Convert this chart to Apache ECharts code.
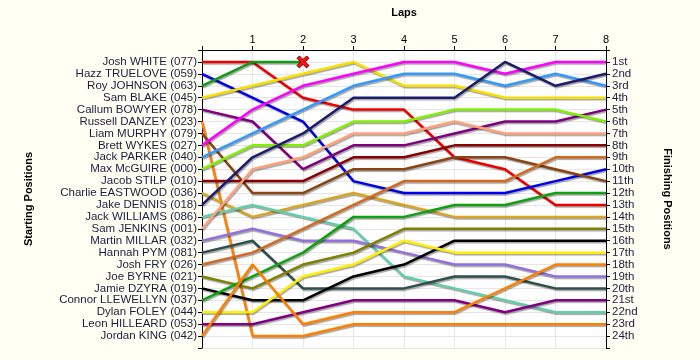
<!DOCTYPE html>
<html>
<head>
<meta charset="utf-8">
<script src="https://cdn.jsdelivr.net/npm/echarts@6/dist/echarts.min.js"></script>
<style>
html,body{margin:0;padding:0;background:#fffff4;}
#c{width:700px;height:360px;}
</style>
</head>
<body>
<div id="c"></div>
<script>
// Laps (x values)
const laps = [0, 1, 2, 3, 4, 5, 6, 7, 8];
// Drivers in starting order
const drivers = [
  'Josh WHITE (077)', 'Hazz TRUELOVE (059)', 'Roy JOHNSON (063)', 'Sam BLAKE (045)',
  'Callum BOWYER (078)', 'Russell DANZEY (023)', 'Liam MURPHY (079)', 'Brett WYKES (027)',
  'Jack PARKER (040)', 'Max McGUIRE (000)', 'Jacob STILP (010)', 'Charlie EASTWOOD (036)',
  'Jake DENNIS (018)', 'Jack WILLIAMS (086)', 'Sam JENKINS (001)', 'Martin MILLAR (032)',
  'Hannah PYM (081)', 'Josh FRY (026)', 'Joe BYRNE (021)', 'Jamie DZYRA (019)',
  'Connor LLEWELLYN (037)', 'Dylan FOLEY (044)', 'Leon HILLEARD (053)', 'Jordan KING (042)'
];
// Finishing position tick labels
const finishLabels = ['1st','2nd','3rd','4th','5th','6th','7th','8th','9th','10th','11th','12th',
  '13th','14th','15th','16th','17th','18th','19th','20th','21st','22nd','23rd','24th'];

// Position per lap for each driver
const joshWhite      = [1, 1, 4, 5, 5, 9, 10, 13, 13];
const hazzTruelove   = [2, 4, 6, 11, 12, 12, 12, 11, 10];
const royJohnson     = [3, 1, 1];            // retired after lap 2
const samBlake       = [4, 3, 2, 1, 3, 3, 4, 4, 4];
const callumBowyer   = [5, 6, 10, 8, 8, 7, 6, 6, 5];
const russellDanzey  = [6, 24, 24, 23, 23, 23, 23, 23, 23];
const liamMurphy     = [7, 12, 12, 10, 10, 9, 9, 10, 11];
const brettWykes     = [8, 5, 3, 2, 1, 1, 2, 1, 1];
const jackParker     = [9, 7, 5, 3, 2, 2, 3, 2, 3];
const maxMcguire     = [10, 8, 8, 6, 6, 5, 5, 5, 6];
const jacobStilp     = [11, 11, 11, 9, 9, 8, 8, 8, 8];
const charlieEastwood= [12, 14, 13, 12, 13, 14, 14, 14, 14];
const jakeDennis     = [13, 9, 7, 4, 4, 4, 1, 3, 2];
const jackWilliams   = [14, 13, 14, 15, 19, 20, 21, 22, 22];
const samJenkins     = [15, 10, 9, 7, 7, 6, 7, 7, 7];
const martinMillar   = [16, 15, 16, 16, 17, 18, 18, 19, 19];
const hannahPym      = [17, 16, 20, 20, 20, 19, 19, 20, 20];
const joshFry        = [18, 17, 15, 13, 11, 11, 11, 9, 9];
const joeByrne       = [19, 20, 18, 17, 15, 15, 15, 15, 15];
const jamieDzyra     = [20, 21, 21, 19, 18, 16, 16, 16, 16];
const connorLlewellyn= [21, 19, 17, 14, 14, 13, 13, 12, 12];
const dylanFoley     = [22, 22, 19, 18, 16, 17, 17, 17, 17];
const leonHilleard   = [23, 23, 22, 21, 21, 21, 22, 21, 21];
const jordanKing     = [24, 18, 23, 22, 22, 22, 20, 18, 18];

const positions = [joshWhite, hazzTruelove, royJohnson, samBlake, callumBowyer, russellDanzey,
  liamMurphy, brettWykes, jackParker, maxMcguire, jacobStilp, charlieEastwood, jakeDennis,
  jackWilliams, samJenkins, martinMillar, hannahPym, joshFry, joeByrne, jamieDzyra,
  connorLlewellyn, dylanFoley, leonHilleard, jordanKing];
const retired = [false, false, true, false, false, false, false, false, false, false, false, false,
  false, false, false, false, false, false, false, false, false, false, false, false];

const colors = ['#ee0000','#0000ee','#139a13','#f7e000','#800080','#ff8000','#8b4513','#ff00ff',
  '#3399ff','#80f000','#8b0000','#daa520','#1c1c6c','#66cdaa','#ffa07a','#9370db',
  '#2f4f4f','#d2691e','#808000','#000000','#10a010','#ffee00','#800080','#ff8000'];

const xPath = 'path://M0,2 L2,0 L5,3 L8,0 L10,2 L7,5 L10,8 L8,10 L5,7 L2,10 L0,8 L3,5 Z';

const series = positions.map((arr, i) => ({
  name: drivers[i],
  type: 'line',
  yAxisIndex: 0,
  symbol: 'none',
  showSymbol: true,
  z: 10 + i,
  lineStyle: {
    width: 2.5, color: colors[i],
    shadowColor: 'rgba(0,0,0,0.35)', shadowOffsetX: 1, shadowOffsetY: 1.5, shadowBlur: 1
  },
  itemStyle: { color: colors[i] },
  data: arr.map((p, k) => {
    const item = { value: [laps[k], p] };
    if (retired[i] && k === arr.length - 1) {
      item.symbol = xPath;
      item.symbolSize = 12;
      item.itemStyle = { color: '#ff1010', borderColor: '#600000', borderWidth: 1 };
    }
    return item;
  }),
  animation: false
}));
// put the retired driver on top
series[2].z = 50;

const chart = echarts.init(document.getElementById('c'), null, { renderer: 'canvas' });
chart.setOption({
  backgroundColor: '#fffff4',
  animation: false,
  textStyle: { fontFamily: 'Liberation Sans, Arial, sans-serif' },
  grid: { left: 202, right: 94, top: 50, bottom: 12, show: true, backgroundColor: '#ffffff', borderWidth: 0 },
  xAxis: {
    type: 'value', position: 'top', min: 0, max: 8, interval: 1,
    name: 'Laps', nameLocation: 'middle', nameGap: 32,
    nameTextStyle: { fontWeight: 'bold', fontSize: 11, color: '#000' },
    axisLine: { show: true, onZero: false, lineStyle: { color: '#000', width: 1 } },
    axisTick: { show: true, length: 4, lineStyle: { color: '#000' } },
    axisLabel: { fontSize: 11, color: '#000', margin: 5, formatter: v => v === 0 ? '' : String(v) },
    splitLine: { show: true, lineStyle: { color: '#e6e6e6', width: 1 } }
  },
  yAxis: [{
    type: 'value', position: 'left', min: 0, max: 25, interval: 1, inverse: true,
    name: 'Starting Positions', nameLocation: 'middle', nameGap: 168, nameRotate: 90,
    nameTextStyle: { fontWeight: 'bold', fontSize: 11, color: '#000' },
    axisLine: { show: true, onZero: false, lineStyle: { color: '#000', width: 1 } },
    axisTick: { show: true, length: 4, lineStyle: { color: '#000' } },
    axisLabel: { fontSize: 11.5, color: '#1c1c3c', margin: 5,
      formatter: v => (v >= 1 && v <= drivers.length) ? drivers[v - 1] : '' },
    splitLine: { show: true, lineStyle: { color: '#e6e6e6', width: 1 } }
  }, {
    type: 'value', position: 'right', min: 0, max: 25, interval: 1, inverse: true,
    name: 'Finishing Positions', nameLocation: 'middle', nameGap: 56, nameRotate: -90,
    nameTextStyle: { fontWeight: 'bold', fontSize: 11, color: '#000' },
    axisLine: { show: true, onZero: false, lineStyle: { color: '#000', width: 1 } },
    axisTick: { show: true, length: 4, lineStyle: { color: '#000' } },
    axisLabel: { fontSize: 11.5, color: '#1c1c3c', margin: 6,
      formatter: v => (v >= 1 && v <= finishLabels.length) ? finishLabels[v - 1] : '' },
    splitLine: { show: false }
  }],
  series: series
});
</script>
</body>
</html>
